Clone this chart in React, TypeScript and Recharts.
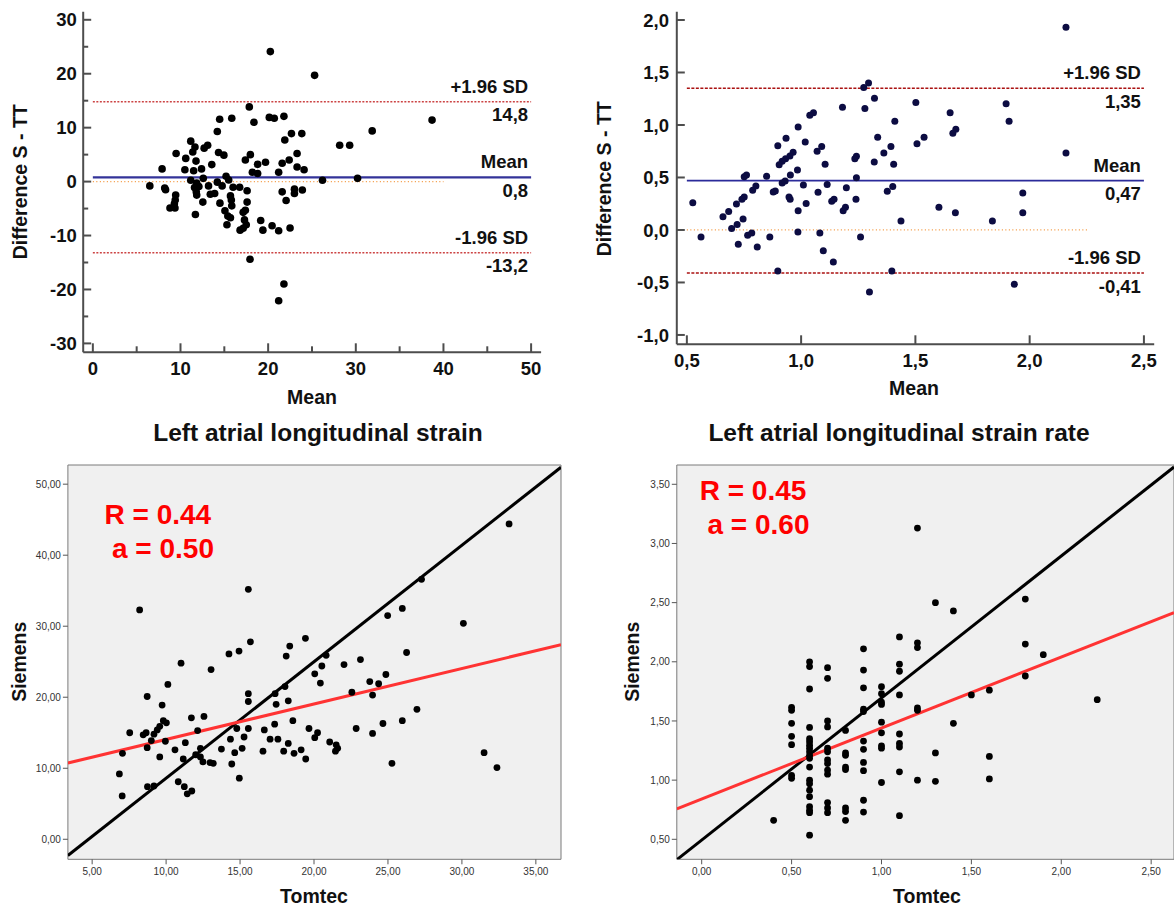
import React from "react";
import { ScatterChart, Scatter, XAxis, YAxis, ReferenceLine, ReferenceArea } from "recharts";

// ---------- Bland-Altman, LA longitudinal strain (S - TT) ----------
const strainBaMean = [
  20.25, 25.3, 17.85, 14.47, 15.85, 20.13, 20.7, 21.8, 18.38, 38.7,
  31.87, 14.2, 22.66, 23.84, 21.9, 11.17, 28.16, 29.3, 13.1, 11.65,
  12.7, 11.4, 14.34, 14.95, 9.5, 10.6, 11.77, 17.97, 17.4, 19.7,
  18.8, 23.3, 22.4, 21.6, 23.3, 24.1, 7.9, 10.5, 11.5, 12.4,
  13.57, 18.2, 18.8, 21.2, 15.2, 12.6, 11.17, 11.85, 14.2, 15.5,
  26.2, 30.2, 6.5, 8.2, 8.3, 9.45, 9.4, 9.3, 8.8, 9.37,
  11.6, 11.8, 11.85, 12.1, 13.2, 13.4, 13.9, 12.55, 14.5, 14.75,
  15.7, 15.8, 15.85, 15.07, 15.4, 15.7, 15.3, 11.7, 16.0, 16.75,
  17.6, 17.6, 17.4, 17.15, 17.3, 17.5, 17.15, 16.8, 17.93, 19.15,
  19.4, 20.45, 21.2, 22.5, 21.6, 22.05, 23.0, 23.0, 23.9, 21.8,
  21.2,
];
const strainBaDiff = [
  24.1, 19.7, 13.85, 11.56, 11.75, 11.9, 11.75, 12.1, 11.0, 11.4,
  9.4, 9.3, 8.9, 8.9, 7.7, 7.5, 6.74, 6.74, 6.74, 6.4,
  6.2, 5.5, 5.4, 4.9, 5.2, 4.3, 3.8, 5.0, 4.0, 3.6,
  3.2, 5.2, 4.0, 3.4, 2.7, 2.2, 2.35, 2.2, 2.0, 2.35,
  3.15, 1.73, 1.5, 1.73, 1.0, 0.6, 0.25, -0.25, -0.1, 0.3,
  0.25, 0.6, -0.8, -1.2, -1.5, -2.5, -3.4, -4.1, -4.9, -4.9,
  -1.1, -1.9, -2.5, -0.9, -0.8, -2.35, -2.2, -3.8, -4.0, -0.8,
  -2.65, -3.4, -4.5, -5.4, -6.4, -6.7, -8.0, -6.1, -1.05, -1.05,
  -1.7, -3.8, -5.3, -5.7, -7.1, -8.0, -8.65, -9.0, -14.4, -7.2,
  -9.0, -8.2, -9.1, -8.6, -1.9, -3.5, -1.4, -2.2, -1.55, -19.0,
  -22.1,
];
const strainBaStats = { mean: 0.8, upper: 14.8, lower: -13.2 };
const strainBaXTicks = [0, 5, 10, 15, 20, 25, 30, 35, 40, 45, 50];
const strainBaXLabels = [0, 10, 20, 30, 40, 50];
const strainBaYTicks = [-30, -25, -20, -15, -10, -5, 0, 5, 10, 15, 20, 25, 30];
const strainBaYLabels = [-30, -20, -10, 0, 10, 20, 30];

// ---------- Bland-Altman, LA longitudinal strain rate (S - TT) ----------
const rateBaMean = [
  2.159, 2.159, 1.295, 1.274, 1.321, 1.279, 1.181, 1.502, 1.897, 1.652,
  1.91, 1.41, 1.054, 1.038, 0.987, 0.934, 0.898, 1.018, 1.09, 1.07,
  1.105, 1.335, 1.538, 1.507, 1.677, 1.664, 1.393, 1.362, 1.242, 1.235,
  1.32, 1.405, 0.965, 0.951, 0.932, 0.917, 0.904, 0.984, 0.953, 0.849,
  0.761, 0.751, 0.917, 0.93, 1.242, 1.01, 1.114, 1.198, 1.401, 1.377,
  1.074, 0.802, 0.788, 0.751, 0.741, 0.717, 0.683, 0.658, 0.526, 0.562,
  0.878, 0.887, 0.947, 0.952, 1.022, 1.134, 1.144, 1.24, 1.194, 1.184,
  0.987, 1.603, 1.675, 1.97, 1.97, 1.437, 1.837, 0.746, 0.72, 0.696,
  0.725, 0.766, 0.784, 0.808, 0.863, 0.986, 1.082, 1.26, 1.097, 1.141,
  0.898, 1.397, 1.299, 1.933,
];
const rateBaDiff = [
  1.93, 0.733, 1.4, 1.356, 1.254, 1.156, 1.168, 1.213, 1.203, 1.117,
  1.035, 1.035, 1.117, 1.092, 0.981, 0.873, 0.803, 0.838, 0.794, 0.749,
  0.625, 0.883, 0.883, 0.822, 0.959, 0.921, 0.794, 0.733, 0.702, 0.679,
  0.648, 0.625, 0.74, 0.705, 0.679, 0.654, 0.622, 0.571, 0.524, 0.511,
  0.524, 0.508, 0.448, 0.467, 0.498, 0.429, 0.432, 0.403, 0.413, 0.368,
  0.359, 0.419, 0.378, 0.314, 0.292, 0.248, 0.175, 0.127, 0.26, -0.067,
  0.362, 0.37, 0.314, 0.292, 0.251, 0.273, 0.292, 0.292, 0.216, 0.184,
  0.184, 0.216, 0.165, 0.352, 0.165, 0.086, 0.086, 0.105, 0.051, 0.013,
  -0.137, -0.051, -0.029, -0.162, -0.067, -0.019, -0.029, -0.067, -0.197, -0.305,
  -0.39, -0.39, -0.59, -0.517,
];
const rateBaStats = { mean: 0.47, upper: 1.35, lower: -0.41 };
const rateBaXTicks = [0.5, 1, 1.5, 2, 2.5];
const rateBaYTicks = [-1, -0.5, 0, 0.5, 1, 1.5, 2];

// ---------- Correlation, LA longitudinal strain ----------
const strainTomtec = [
  33.19, 27.27, 15.56, 8.21, 25.97, 24.98, 30.1, 15.7, 18.36, 14.25,
  14.93, 19.42, 18.12, 20.82, 26.26, 11.01, 13.04, 23.14, 22.03, 20.53,
  20.05, 24.86, 23.77, 24.37, 20.43, 10.12, 18.04, 22.56, 23.96, 17.37,
  15.56, 15.56, 18.26, 17.44, 8.72, 9.73, 26.96, 11.71, 12.56, 9.81,
  10.02, 18.57, 17.34, 24.66, 25.97, 12.13, 14.78, 15.56, 19.66, 22.85,
  16.64, 7.54, 8.45, 8.65, 9.4, 9.57, 9.18, 20.24, 23.96, 20.05,
  15.27, 14.35, 17.03, 17.56, 9.95, 9.0, 11.3, 18.26, 21.06, 21.5,
  21.6, 21.45, 8.72, 7.05, 10.6, 12.32, 13.74, 15.14, 16.55, 17.95,
  19.13, 18.65, 14.64, 12.0, 12.32, 11.16, 9.57, 12.49, 12.97, 13.19,
  14.44, 19.44, 25.27, 31.5, 32.37, 6.84, 14.95, 8.74, 9.18, 10.82,
  11.23, 11.74, 11.43, 7.03,
];
const strainSiemens = [
  44.4, 36.6, 35.2, 32.3, 32.5, 31.5, 30.4, 27.8, 27.2, 26.1,
  26.5, 28.3, 25.8, 25.9, 26.3, 24.8, 23.9, 25.3, 24.6, 24.4,
  23.3, 23.2, 22.2, 21.9, 22.0, 21.8, 21.5, 20.7, 20.3, 20.5,
  20.5, 19.4, 19.5, 19.0, 20.1, 18.9, 18.3, 17.1, 17.3, 16.7,
  16.4, 16.7, 16.2, 16.3, 16.7, 15.3, 15.6, 15.6, 15.6, 15.6,
  15.4, 15.0, 14.7, 15.0, 15.4, 15.9, 14.8, 15.0, 14.9, 14.3,
  14.4, 14.1, 14.1, 14.1, 13.8, 13.9, 13.6, 13.5, 13.7, 13.3,
  12.8, 12.4, 12.9, 12.1, 12.6, 12.8, 12.7, 12.8, 12.4, 12.4,
  12.6, 12.1, 12.2, 11.9, 11.6, 11.3, 11.6, 10.9, 10.8, 10.7,
  10.6, 11.3, 10.7, 12.2, 10.1, 9.2, 8.6, 7.4, 7.5, 8.1,
  7.4, 6.8, 6.4, 6.1,
];
const strainR = 0.44;
const strainFit = { slope: 0.5, intercept: 9.05 };
const strainRefLine = { slope: 1.64, intercept: -7.8 };
const strainXTicks = [5, 10, 15, 20, 25, 30, 35];
const strainYTicks = [0, 10, 20, 30, 40, 50];

// ---------- Correlation, LA longitudinal strain rate ----------
const rateTomtec = [
  0.4,
  0.5, 0.5, 0.5, 0.5, 0.5, 0.5, 0.5,
  0.6, 0.6, 0.6, 0.6, 0.6, 0.6, 0.6, 0.6, 0.6, 0.6, 0.6, 0.6, 0.6, 0.6, 0.6, 0.6, 0.6, 0.6, 0.6, 0.6,
  0.7, 0.7, 0.7, 0.7, 0.7, 0.7, 0.7, 0.7, 0.7, 0.7, 0.7, 0.7, 0.7,
  0.8, 0.8, 0.8, 0.8, 0.8, 0.8, 0.8, 0.8,
  0.9, 0.9, 0.9, 0.9, 0.9, 0.9, 0.9, 0.9, 0.9, 0.9, 0.9,
  1.0, 1.0, 1.0, 1.0, 1.0, 1.0, 1.0, 1.0, 1.0,
  1.1, 1.1, 1.1, 1.1, 1.1, 1.1, 1.1, 1.1, 1.1,
  1.2, 1.2, 1.2, 1.2, 1.2, 1.2,
  1.3, 1.3, 1.3,
  1.4, 1.4,
  1.5,
  1.6, 1.6, 1.6,
  1.8, 1.8, 1.8,
  1.9,
  2.2,
];
const rateSiemens = [
  0.66,
  1.615, 1.59, 1.48, 1.37, 1.3, 1.04, 1.015,
  2.0, 1.96, 1.77, 1.445, 1.35, 1.325, 1.295, 1.27, 1.24, 1.21, 1.185, 1.11, 1.0, 0.97, 0.915, 0.86, 0.775, 0.745, 0.725, 0.535,
  1.95, 1.86, 1.5, 1.45, 1.27, 1.24, 1.17, 1.14, 1.085, 1.05, 0.81, 0.765, 0.725,
  1.42, 1.23, 1.21, 1.11, 1.09, 0.765, 0.735, 0.66,
  2.11, 1.93, 1.78, 1.6, 1.58, 1.33, 1.26, 1.15, 1.08, 0.83, 0.73,
  1.79, 1.73, 1.66, 1.64, 1.49, 1.4, 1.29, 1.27, 0.98,
  2.21, 1.98, 1.92, 1.72, 1.39, 1.31, 1.28, 1.07, 0.7,
  3.13, 2.16, 2.12, 1.61, 1.59, 1.0,
  2.5, 1.23, 0.99,
  2.43, 1.48,
  1.72,
  1.76, 1.2, 1.01,
  2.53, 2.15, 1.88,
  2.06,
  1.68,
];
const rateR = 0.45;
const rateFit = { slope: 0.6, intercept: 0.84 };
const rateRefLine = { slope: 1.2, intercept: 0.494 };
const rateXTicks = [0, 0.5, 1, 1.5, 2, 2.5];
const rateYTicks = [0.5, 1, 1.5, 2, 2.5, 3, 3.5];

// ---------------------------------------------------------------
const FONT = '"Liberation Sans", Arial, Helvetica, sans-serif';
const AXIS = "#4d4d4d";

type Box = { left: number; top: number; width: number; height: number };
type Plot = { left: number; top: number; right: number; bottom: number };

const pairs = (xs: number[], ys: number[]) => xs.map((x, i) => ({ x, y: ys[i] }));
const comma = (digits: number) => (v: number) => v.toFixed(digits).replace(".", ",");

const dot = (r: number, fill: string) => (p: any) =>
  p.cx == null ? <g /> : <circle cx={p.cx} cy={p.cy} r={r} fill={fill} />;

function chartMargin(box: Box, plot: Plot) {
  return { top: plot.top - box.top, right: box.left + box.width - plot.right, bottom: 0, left: 0 };
}

// ticks pointing into the plot, labels only on the major values
function inwardYTick(gap: number, labels: number[], fmt: (v: number) => string) {
  return (props: any) => {
    const { x, y, payload } = props;
    const v = payload.value as number;
    const major = labels.includes(v);
    const ax = x + gap;
    return (
      <g>
        <line x1={ax} x2={ax + (major ? 8 : 5)} y1={y} y2={y} stroke={AXIS} strokeWidth={2} />
        {major && (
          <text x={x} y={y} dy="0.36em" textAnchor="end" fontSize={18.5} fontWeight={700} fontFamily={FONT} fill="#111">
            {fmt(v)}
          </text>
        )}
      </g>
    );
  };
}

function inwardXTick(gap: number, labels: number[], fmt: (v: number) => string) {
  return (props: any) => {
    const { x, y, payload } = props;
    const v = payload.value as number;
    const major = labels.includes(v);
    const ay = y - gap;
    return (
      <g>
        <line x1={x} x2={x} y1={ay} y2={ay - (major ? 9 : 6)} stroke={AXIS} strokeWidth={2} />
        {major && (
          <text x={x} y={ay + 22.6} textAnchor="middle" fontSize={18.5} fontWeight={700} fontFamily={FONT} fill="#111">
            {fmt(v)}
          </text>
        )}
      </g>
    );
  };
}

// two-line tag at the right end of a limit line
const sideTag = (above: string, below: string) => (p: any) => {
  const vb = p.viewBox;
  if (!vb) return <g />;
  const xr = vb.x + vb.width - 3;
  return (
    <g fontSize={18.5} fontWeight={700} fontFamily={FONT} fill="#111" textAnchor="end">
      <text x={xr} y={vb.y - 9}>{above}</text>
      <text x={xr} y={vb.y + 19.5}>{below}</text>
    </g>
  );
};

type BAProps = {
  box: Box;
  plot: Plot;
  xs: number[];
  ys: number[];
  stats: { mean: number; upper: number; lower: number };
  statDigits: number;
  xDomain: [number, number];
  yDomain: [number, number];
  xTicks: number[];
  xLabels: number[];
  yTicks: number[];
  yLabels: number[];
  fmt: (v: number) => string;
  zeroEnd: number;
  yGap: number;
  dotR: number;
  dotColor: string;
  meanColor: string;
  meanWidth: number;
  sdColor: string;
  sdDash: string;
};

function BlandAltman(p: BAProps) {
  const { box, plot, stats } = p;
  const data = pairs(p.xs, p.ys);
  const stat = comma(p.statDigits);
  const x0 = p.xTicks[0];
  const x1 = p.xTicks[p.xTicks.length - 1];
  const seg = (y: number, a: number, b: number) => [{ x: a, y }, { x: b, y }];
  return (
    <div style={{ position: "absolute", left: box.left, top: box.top }}>
      <ScatterChart width={box.width} height={box.height} margin={chartMargin(box, plot)}>
        <XAxis
          type="number"
          dataKey="x"
          domain={p.xDomain}
          allowDataOverflow
          ticks={p.xTicks}
          interval={0}
          height={box.top + box.height - plot.bottom}
          tickSize={0}
          tickMargin={10}
          tickLine={false}
          axisLine={{ stroke: AXIS, strokeWidth: 2 }}
          tick={inwardXTick(10, p.xLabels, p.fmt)}
        />
        <YAxis
          type="number"
          dataKey="y"
          domain={p.yDomain}
          allowDataOverflow
          ticks={p.yTicks}
          interval={0}
          width={plot.left - box.left}
          tickSize={0}
          tickMargin={p.yGap}
          tickLine={false}
          axisLine={{ stroke: AXIS, strokeWidth: 2 }}
          tick={inwardYTick(p.yGap, p.yLabels, p.fmt)}
        />
        <ReferenceLine segment={seg(0, x0, p.zeroEnd)} stroke="#f39437" strokeWidth={1.2} strokeDasharray="1 2.5" />
        <ReferenceLine
          segment={seg(stats.upper, x0, x1)}
          stroke={p.sdColor}
          strokeWidth={1.5}
          strokeDasharray={p.sdDash}
          label={sideTag("+1.96 SD", stat(stats.upper))}
        />
        <ReferenceLine
          segment={seg(stats.mean, x0, x1)}
          stroke={p.meanColor}
          strokeWidth={p.meanWidth}
          label={sideTag("Mean", stat(stats.mean))}
        />
        <ReferenceLine
          segment={seg(stats.lower, x0, x1)}
          stroke={p.sdColor}
          strokeWidth={1.5}
          strokeDasharray={p.sdDash}
          label={sideTag("-1.96 SD", stat(stats.lower))}
        />
        <Scatter data={data} dataKey="y" isAnimationActive={false} shape={dot(p.dotR, p.dotColor)} />
      </ScatterChart>
    </div>
  );
}

type CorrProps = {
  box: Box;
  plot: Plot;
  xs: number[];
  ys: number[];
  xDomain: [number, number];
  yDomain: [number, number];
  xTicks: number[];
  yTicks: number[];
  fit: { slope: number; intercept: number };
  ref: { slope: number; intercept: number };
};

function Correlation(p: CorrProps) {
  const { box, plot, xDomain, yDomain } = p;
  const data = pairs(p.xs, p.ys);
  const fmt = comma(2);
  const lineSeg = (l: { slope: number; intercept: number }) =>
    xDomain.map((x) => ({ x, y: l.slope * x + l.intercept }));
  const tickStyle = { fontSize: 10, fill: "#333", fontFamily: FONT };
  return (
    <div style={{ position: "absolute", left: box.left, top: box.top }}>
      <ScatterChart width={box.width} height={box.height} margin={chartMargin(box, plot)}>
        <ReferenceArea
          x1={xDomain[0]}
          x2={xDomain[1]}
          y1={yDomain[0]}
          y2={yDomain[1]}
          fill="#f0f0f0"
          fillOpacity={1}
          stroke="#7a7a7a"
          strokeWidth={1}
          ifOverflow="visible"
        />
        <XAxis
          type="number"
          dataKey="x"
          domain={xDomain}
          allowDataOverflow
          ticks={p.xTicks}
          interval={0}
          height={box.top + box.height - plot.bottom}
          tickSize={5}
          tickMargin={4}
          axisLine={false}
          tickLine={{ stroke: "#555" }}
          tick={tickStyle}
          tickFormatter={fmt}
        />
        <YAxis
          type="number"
          dataKey="y"
          domain={yDomain}
          allowDataOverflow
          ticks={p.yTicks}
          interval={0}
          width={plot.left - box.left}
          tickSize={5}
          tickMargin={2}
          axisLine={false}
          tickLine={{ stroke: "#555" }}
          tick={tickStyle}
          tickFormatter={fmt}
        />
        <ReferenceLine segment={lineSeg(p.ref)} stroke="#000" strokeWidth={3} ifOverflow="hidden" />
        <ReferenceLine segment={lineSeg(p.fit)} stroke="#ff3333" strokeWidth={3} ifOverflow="hidden" />
        <Scatter data={data} dataKey="y" isAnimationActive={false} shape={dot(3.4, "#000")} />
      </ScatterChart>
    </div>
  );
}

// plain text overlays (titles, axis names, R / a)
function Txt(props: { text: string; x: number; baseline: number; fs: number; center?: boolean; color?: string }) {
  const { text, x, baseline, fs, center, color = "#111" } = props;
  const w = 500;
  return (
    <div
      style={{
        position: "absolute",
        left: center ? x - w / 2 : x,
        top: baseline - 0.8465 * fs,
        width: center ? w : undefined,
        textAlign: center ? "center" : "left",
        fontFamily: FONT,
        fontSize: fs,
        fontWeight: 700,
        lineHeight: `${fs}px`,
        color,
        whiteSpace: "nowrap",
      }}
    >
      {text}
    </div>
  );
}

function VTxt(props: { text: string; cx: number; cy: number; fs: number }) {
  const { text, cx, cy, fs } = props;
  const w = 300;
  return (
    <div
      style={{
        position: "absolute",
        left: cx - w / 2,
        top: cy - fs / 2,
        width: w,
        height: fs,
        textAlign: "center",
        transform: "rotate(-90deg)",
        fontFamily: FONT,
        fontSize: fs,
        fontWeight: 700,
        lineHeight: `${fs}px`,
        color: "#111",
        whiteSpace: "nowrap",
      }}
    >
      {text}
    </div>
  );
}

export default function App() {
  const intFmt = (v: number) => String(v);
  return (
    <div style={{ position: "absolute", left: 0, top: 0, width: 1174, height: 908, background: "#fff", overflow: "hidden" }}>
      <BlandAltman
        box={{ left: 0, top: 0, width: 560, height: 420 }}
        plot={{ left: 83.2, top: 11.7, right: 541.1, bottom: 352.3 }}
        xs={strainBaMean}
        ys={strainBaDiff}
        stats={strainBaStats}
        statDigits={1}
        xDomain={[-1.1, 51.14]}
        yDomain={[-31.65, 31.5]}
        xTicks={strainBaXTicks}
        xLabels={strainBaXLabels}
        yTicks={strainBaYTicks}
        yLabels={strainBaYLabels}
        fmt={intFmt}
        zeroEnd={40}
        yGap={6.4}
        dotR={3.8}
        dotColor="#000"
        meanColor="#333399"
        meanWidth={2.2}
        sdColor="#cc4444"
        sdDash="2 1.5"
      />
      <BlandAltman
        box={{ left: 590, top: 0, width: 584, height: 420 }}
        plot={{ left: 676.8, top: 11.7, right: 1154.2, bottom: 344.3 }}
        xs={rateBaMean}
        ys={rateBaDiff}
        stats={rateBaStats}
        statDigits={2}
        xDomain={[0.456, 2.545]}
        yDomain={[-1.089, 2.079]}
        xTicks={rateBaXTicks}
        xLabels={rateBaXTicks}
        yTicks={rateBaYTicks}
        yLabels={rateBaYTicks}
        fmt={comma(1)}
        zeroEnd={2.26}
        yGap={7.8}
        dotR={3.5}
        dotColor="#0c0c42"
        meanColor="#2b2b9a"
        meanWidth={1.6}
        sdColor="#aa1111"
        sdDash="3 1.5"
      />
      <Correlation
        box={{ left: 0, top: 440, width: 572, height: 468 }}
        plot={{ left: 67.9, top: 465, right: 561, bottom: 859.3 }}
        xs={strainTomtec}
        ys={strainSiemens}
        xDomain={[3.36, 36.7]}
        yDomain={[-2.82, 52.7]}
        xTicks={strainXTicks}
        yTicks={strainYTicks}
        fit={strainFit}
        ref={strainRefLine}
      />
      <Correlation
        box={{ left: 590, top: 440, width: 584, height: 468 }}
        plot={{ left: 676.8, top: 465, right: 1174, bottom: 859.3 }}
        xs={rateTomtec}
        ys={rateSiemens}
        xDomain={[-0.1385, 2.627]}
        yDomain={[0.331, 3.663]}
        xTicks={rateXTicks}
        yTicks={rateYTicks}
        fit={rateFit}
        ref={rateRefLine}
      />

      <VTxt text="Difference S - TT" cx={21.4} cy={181.7} fs={19.5} />
      <Txt text="Mean" x={312} baseline={405} fs={19.5} center />
      <VTxt text="Difference S - TT" cx={604.9} cy={178.3} fs={19.5} />
      <Txt text="Mean" x={914} baseline={396} fs={19.5} center />

      <Txt text="Left atrial longitudinal strain" x={318} baseline={441.7} fs={24.5} center />
      <Txt text="Left atrial longitudinal strain rate" x={899} baseline={441.7} fs={24.5} center />

      <VTxt text="Siemens" cx={19.6} cy={661.7} fs={19.5} />
      <Txt text="Tomtec" x={314} baseline={903.3} fs={19.5} center />
      <VTxt text="Siemens" cx={632.8} cy={661.7} fs={19.5} />
      <Txt text="Tomtec" x={927} baseline={903.3} fs={19.5} center />

      <Txt text={`R = ${strainR.toFixed(2)}`} x={104.5} baseline={524.3} fs={28} color="#ff0000" />
      <Txt text={`a = ${strainFit.slope.toFixed(2)}`} x={112} baseline={558.3} fs={28} color="#ff0000" />
      <Txt text={`R = ${rateR.toFixed(2)}`} x={699.7} baseline={501} fs={28} color="#ff0000" />
      <Txt text={`a = ${rateFit.slope.toFixed(2)}`} x={707.5} baseline={534.3} fs={28} color="#ff0000" />
    </div>
  );
}
